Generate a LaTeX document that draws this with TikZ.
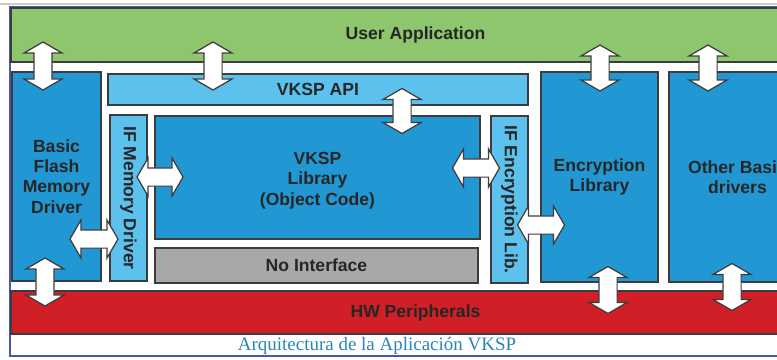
\documentclass[tikz,border=0pt]{standalone}
\usepackage{fontspec}
\setmainfont{Liberation Serif}
\setsansfont{Liberation Sans}
\usetikzlibrary{shapes.arrows, fit, calc, positioning}
\definecolor{vgreen}{HTML}{8DC66C}
\definecolor{vblue}{HTML}{2198D3}
\definecolor{vlight}{HTML}{5CC1EC}
\definecolor{vgray}{HTML}{A7A8AA}
\definecolor{vred}{HTML}{D01F26}
\definecolor{vline}{HTML}{3C3C3C}
\definecolor{vframe}{HTML}{4A58A8}
\definecolor{vcap}{HTML}{2A86B4}
\tikzset{
  boxtxt/.style={font=\sffamily\bfseries\fontsize{10}{11.5}\selectfont, text=black!85,
                 align=center, inner sep=0pt},
  layer/.style={draw=vline, line width=0.9pt, inner sep=0pt},
  greenband/.style={layer, fill=vgreen},
  redband/.style={layer, fill=vred},
  bluebox/.style={layer, fill=vblue},
  lightbox/.style={layer, fill=vlight},
  graybox/.style={layer, fill=vgray},
  sidetxt/.style={boxtxt, rotate=-90},
  dblarr/.style={double arrow, draw=vline, fill=white, line width=0.7pt,
                 inner xsep=0pt, inner ysep=0.17cm, double arrow head extend=0.2cm,
                 double arrow tip angle=120},
}

\begin{document}
\begin{tikzpicture}[x=0.02cm, y=-0.02cm]
  \useasboundingbox (0,0) rectangle (777,359);
  \clip (0,0) rectangle (777,359);

  % frame
  \draw[gray!40, line width=0.6pt] (0,4) -- (777,4);
  \draw[vframe, fill=white, line width=1pt] (10,7) rectangle (820,356);

  % layers
  \node[greenband, fit={(11,8) (820,62)}, label={[boxtxt]center:User Application}] (user) {};
  \node[redband, fit={(11,291) (820,334)}, label={[boxtxt]center:HW Peripherals}] (hw) {};

  \node[bluebox, fit={(12,72) (101,281)}, label={[boxtxt]center:Basic\\Flash\\Memory\\Driver}] (flash) {};
  \node[lightbox, fit={(108,74) (528,105)}, label={[boxtxt]center:VKSP API}] (api) {};
  \node[lightbox, fit={(110,115) (147,281)}] (ifmem) {};
  \node[bluebox, fit={(155,116) (480,239)}, label={[boxtxt, yshift=-0.06cm]center:VKSP\\Library\\(Object Code)}] (lib) {};
  \node[graybox, fit={(155,248) (478,283)}, label={[boxtxt]center:No Interface}] (noif) {};
  \node[lightbox, fit={(491,116) (528,283)}] (ifenc) {};
  \node[bluebox, fit={(541,72) (658,282)}, label={[boxtxt]center:Encryption\\Library}] (enc) {};
  \node[bluebox, fit={(669,72) (806,282)}, label={[boxtxt]center:Other Basic\\drivers}] (other) {};

  \node[sidetxt] (ifmemtxt) at (ifmem) {IF Memory Driver};
  \node[sidetxt] (ifenctxt) at (ifenc) {IF Encryption Lib.};

  % arrows
  \node[dblarr, rotate=90, minimum height=0.96cm] (ua1) at (43,66) {};
  \node[dblarr, rotate=90, minimum height=0.96cm] (ua2) at (213,66) {};
  \node[dblarr, rotate=90, minimum height=0.9cm] (ua3) at (402,111) {};
  \node[dblarr, rotate=90, minimum height=0.92cm] (ua4) at (600,68) {};
  \node[dblarr, rotate=90, minimum height=0.92cm] (ua5) at (708,68) {};
  \node[dblarr, rotate=90, minimum height=0.96cm] (hw1) at (45,282) {};
  \node[dblarr, rotate=90, minimum height=0.94cm] (hw2) at (608,290) {};
  \node[dblarr, rotate=90, minimum height=0.94cm] (hw3) at (732,287) {};

  \node[dblarr, minimum height=0.92cm] (ml) at (160,177) {};
  \node[dblarr, minimum height=0.96cm] (fm) at (94,239) {};
  \node[dblarr, minimum height=0.94cm] (le) at (476,168) {};
  \node[dblarr, minimum height=0.94cm] (ee) at (541,225) {};

  \node[text=vcap, font=\fontsize{10.8}{12}\selectfont] (cap) at (377,346) {Arquitectura de la Aplicación VKSP};
\end{tikzpicture}
\end{document}
